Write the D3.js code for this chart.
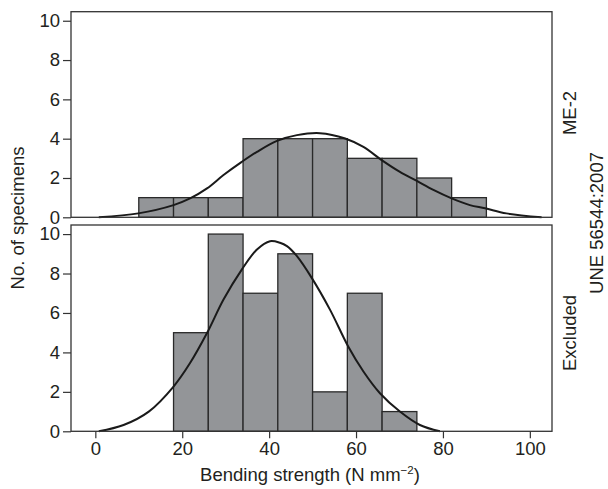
<!DOCTYPE html>
<html>
<head>
<meta charset="utf-8">
<script src="https://cdn.jsdelivr.net/npm/d3@7"></script>
<style>
	body { margin: 0; background: #fff; }
	svg text { font-family: "Liberation Sans", Arial, sans-serif; fill: #231f20; }
</style>
</head>
<body>
<svg id="chart" width="608" height="489"></svg>
<script>
// histogram bins (N mm-2) and counts
const upperEdges = [10, 18, 26, 34, 42, 50, 58, 66, 74, 82, 90];
const upperCounts = [1, 1, 1, 4, 4, 4, 3, 3, 2, 1];
const lowerEdges = [18, 26, 34, 42, 50, 58, 66, 74];
const lowerCounts = [5, 10, 7, 9, 2, 7, 1];

// fitted curves
const upperCurveX = [0.8, 9.9, 18, 21.8, 25.7, 29.5, 33.7, 37.2, 41.8, 46.4, 51.7, 57.5, 61.7, 65.9, 70.1, 73.9, 77.8, 82, 86.2, 89.7, 94.6, 102.7];
const upperCurveY = [0, 0.2, 0.62, 0.96, 1.47, 2.15, 2.82, 3.33, 3.89, 4.18, 4.28, 4.01, 3.58, 2.91, 2.31, 1.86, 1.39, 0.96, 0.62, 0.46, 0.2, 0];
const lowerCurveX = [0.8, 6.5, 12.3, 18, 21.8, 25.7, 29.5, 33.7, 37.2, 40.2, 42.5, 44.1, 46.4, 49.8, 54, 58.2, 61.7, 65.5, 70.1, 74.7, 79.3];
const lowerCurveY = [0, 0.32, 1.0, 2.27, 3.46, 4.98, 6.68, 8.2, 9.22, 9.64, 9.56, 9.39, 8.88, 7.78, 6.17, 4.3, 3.03, 1.93, 1.0, 0.32, 0];

const xTicks = [0, 20, 40, 60, 80, 100];
const yTicks = [0, 2, 4, 6, 8, 10];

const FS = 18.5;

const svg = d3.select('#chart');

const x = d3.scaleLinear()
	.domain([-5.6, 105.1])
	.range([71, 552]);

const panels = [
	{ edges: upperEdges, counts: upperCounts, cx: upperCurveX, cy: upperCurveY, top: 11.7, bottom: 217.3, label: "ME-2", ly: 113 },
	{ edges: lowerEdges, counts: lowerCounts, cx: lowerCurveX, cy: lowerCurveY, top: 225, bottom: 431.3, label: "Excluded", ly: 333 }
];

panels.forEach((p, i) => {
	const y = d3.scaleLinear()
		.domain([0, 10])
		.range([p.bottom, p.bottom - (p.bottom - p.top) * 10 / 10.46]);

	const g = svg.append('g');

	const bins = p.counts.map((c, k) => ({ x0: p.edges[k], x1: p.edges[k + 1], n: c }));

	g.selectAll('rect')
		.data(bins)
		.enter().append('rect')
		.attr('x', d => x(d.x0))
		.attr('y', d => y(d.n))
		.attr('width', d => x(d.x1) - x(d.x0))
		.attr('height', d => y(0) - y(d.n))
		.attr('fill', '#939598')
		.attr('stroke', '#2a2a2a')
		.attr('stroke-width', 1.3);

	const line = d3.line()
		.x(d => x(d[0]))
		.y(d => y(d[1]))
		.curve(d3.curveCatmullRom);

	g.append('path')
		.datum(p.cx.map((v, k) => [v, p.cy[k]]))
		.attr('d', line)
		.attr('fill', 'none')
		.attr('stroke', '#1a1a1a')
		.attr('stroke-width', 2);

	// frame
	g.append('rect')
		.attr('x', 71)
		.attr('y', p.top)
		.attr('width', 552 - 71)
		.attr('height', p.bottom - p.top)
		.attr('fill', 'none')
		.attr('stroke', '#333')
		.attr('stroke-width', 1.3);

	const ya = g.append('g')
		.attr('transform', 'translate(71,0)')
		.call(d3.axisLeft(y).tickValues(yTicks).tickSize(8).tickPadding(3));
	ya.select('.domain').remove();
	ya.selectAll('line').attr('stroke', '#333').attr('stroke-width', 1.2);
	ya.selectAll('text').attr('font-size', FS).attr('font-family', null).attr('fill', '#231f20');

	g.append('text')
		.attr('transform', `translate(576,${p.ly}) rotate(-90)`)
		.attr('text-anchor', 'middle')
		.attr('font-size', FS)
		.text(p.label);

	if (i === 1) {
		const xa = g.append('g')
			.attr('transform', `translate(0,${p.bottom})`)
			.call(d3.axisBottom(x).tickValues(xTicks).tickSize(7).tickPadding(4));
		xa.select('.domain').remove();
		xa.selectAll('line').attr('stroke', '#333').attr('stroke-width', 1.2);
		xa.selectAll('text').attr('font-size', FS).attr('font-family', null).attr('fill', '#231f20');
	}
});

svg.append('text')
	.attr('transform', 'translate(24,218) rotate(-90)')
	.attr('text-anchor', 'middle')
	.attr('font-size', FS)
	.text("No. of specimens");

svg.append('text')
	.attr('transform', 'translate(603,223) rotate(-90)')
	.attr('text-anchor', 'middle')
	.attr('font-size', FS)
	.text("UNE 56544:2007");

const xl = svg.append('text')
	.attr('x', 310)
	.attr('y', 481)
	.attr('text-anchor', 'middle')
	.attr('font-size', FS);
xl.append('tspan').text("Bending strength (N mm");
xl.append('tspan').attr('font-size', 11.5).attr('dy', -7).text("\u22122");
xl.append('tspan').attr('dy', 7).text(")");
</script>
</body>
</html>
